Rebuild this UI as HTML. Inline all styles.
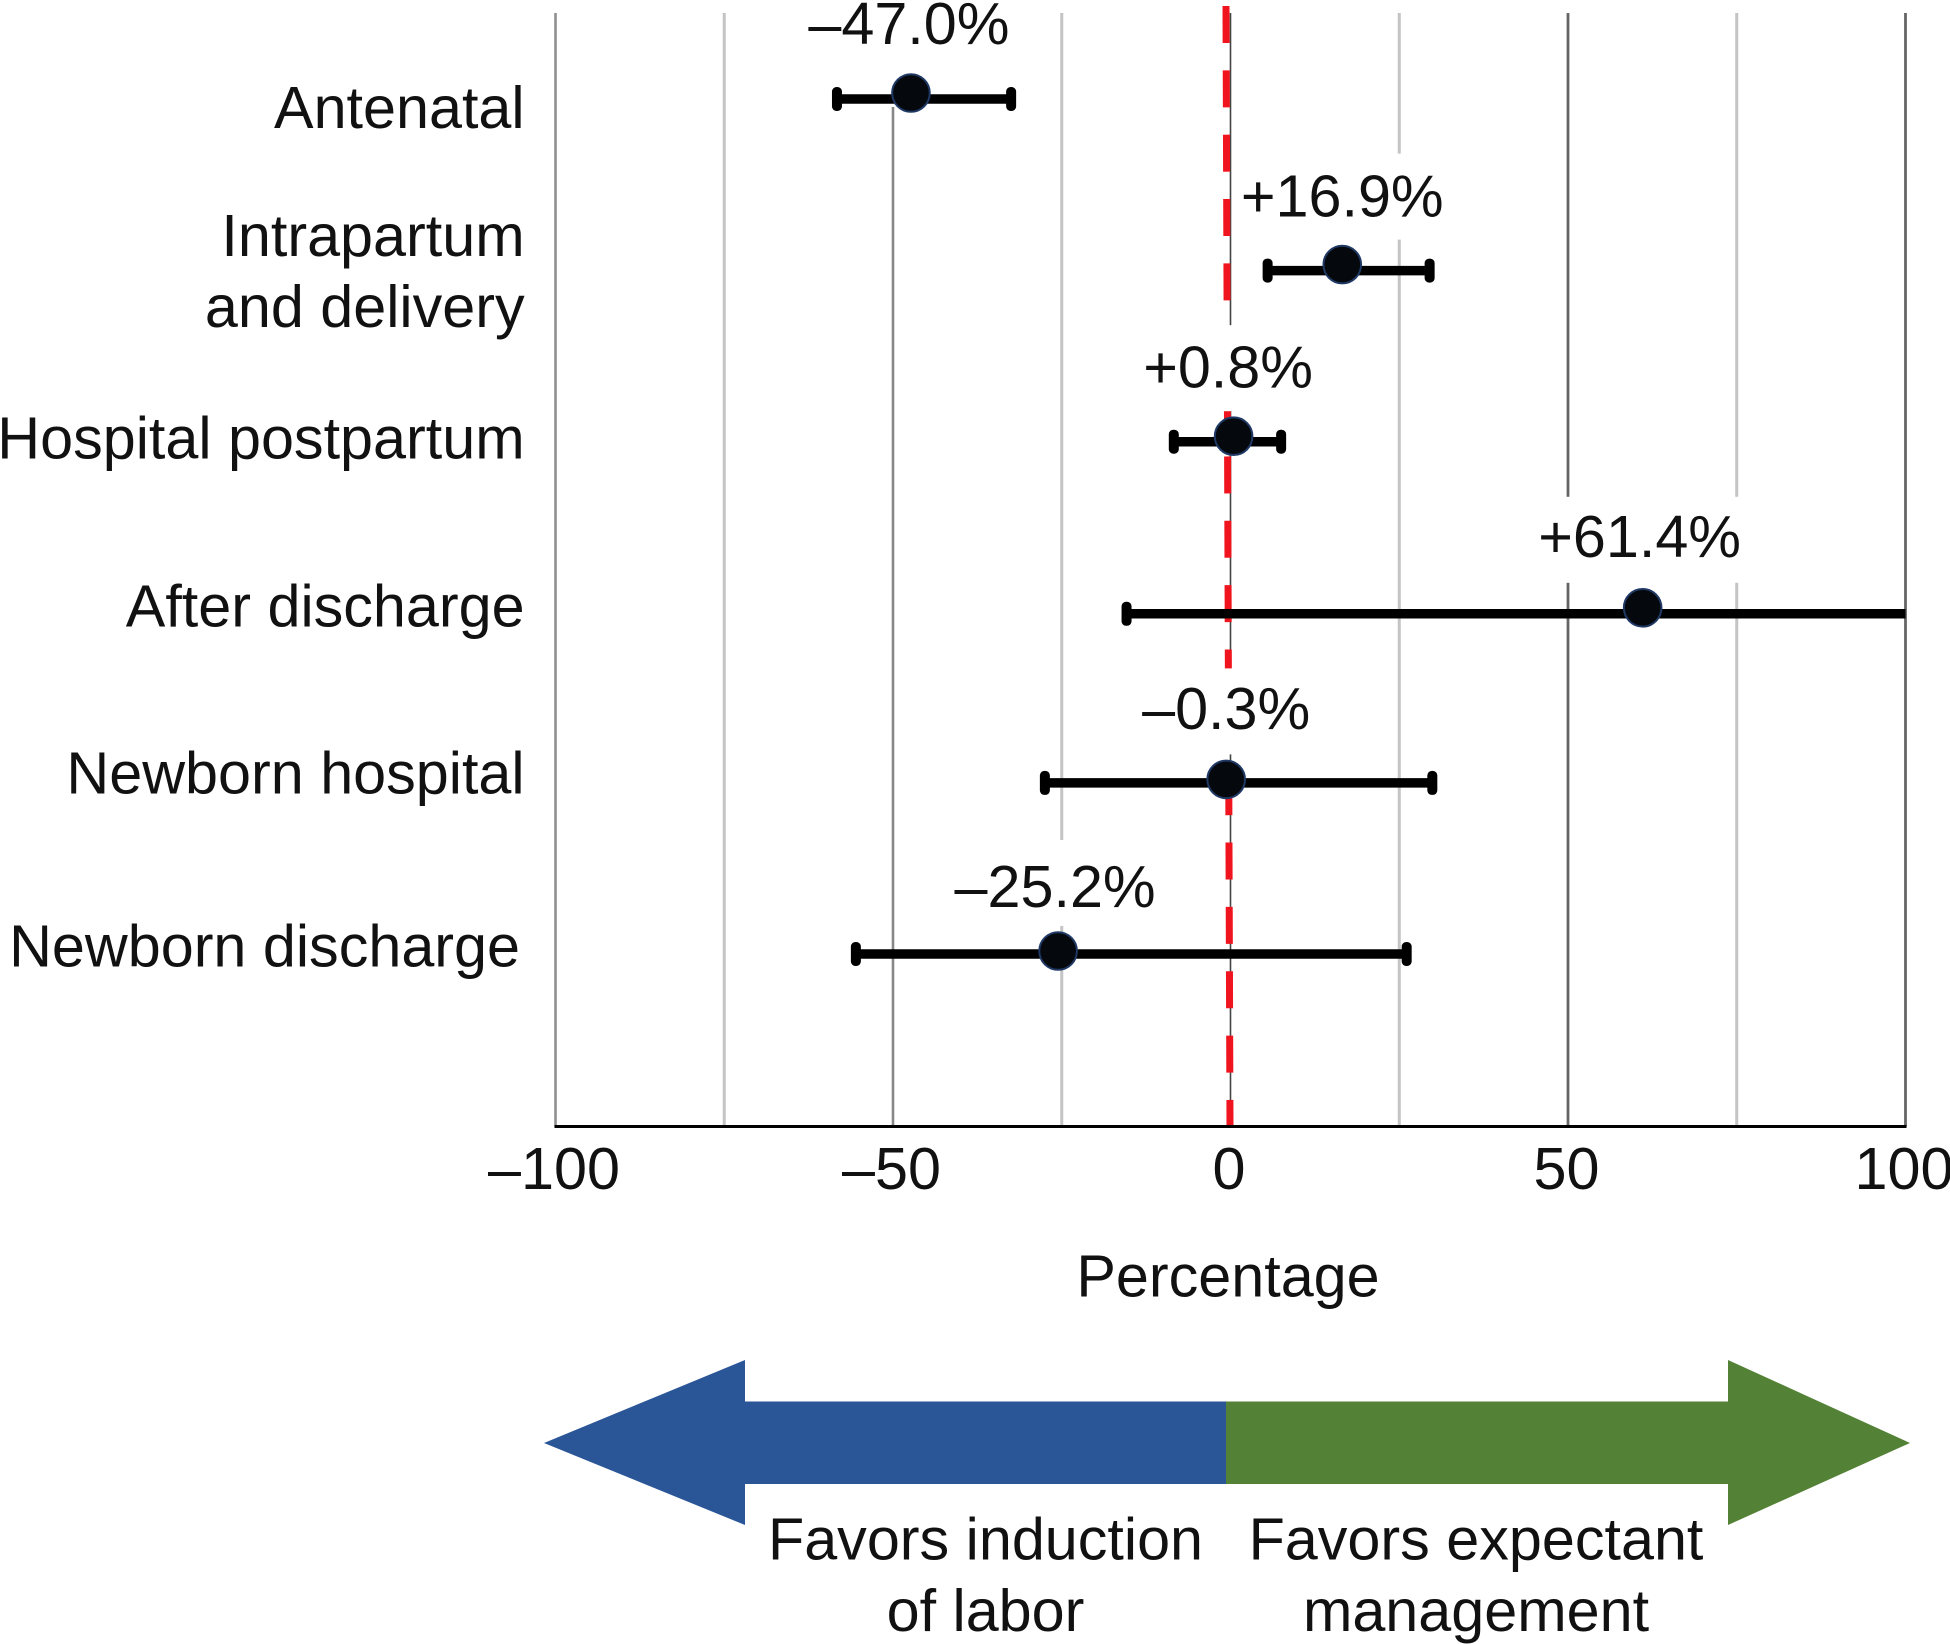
<!DOCTYPE html>
<html lang="en">
<head>
<meta charset="utf-8">
<title>Percentage difference by care phase</title>
<style>
  html, body { margin: 0; padding: 0; background: #fff; }
  svg { display: block; overflow: hidden; }
  text { font-family: "Liberation Sans", Arial, sans-serif; font-size: 59.3px; fill: #111; }
</style>
</head>
<body>
<svg id="chart" xmlns="http://www.w3.org/2000/svg" width="1950" height="1644" viewBox="0 0 1950 1644">
  <rect x="0" y="0" width="1950" height="1644" fill="#fff"/>
  <g id="grid"></g>
  <g id="boxes"></g>
  <g id="axis"></g>
  <g id="cats"></g>
  <g id="marks"></g>
  <text x="1228" y="1296.5" text-anchor="middle">Percentage</text>
  <polygon fill="#2a5597" points="544,1443 745,1360 745,1401.5 1226,1401.5 1226,1484 745,1484 745,1525"/>
  <polygon fill="#538135" points="1226,1401.5 1728,1401.5 1728,1360 1910,1443 1728,1525 1728,1484 1226,1484"/>
  <text text-anchor="middle" x="985.5" y="1559.5">Favors induction<tspan x="985.5" y="1631">of labor</tspan></text>
  <text text-anchor="middle" x="1476" y="1559.5">Favors expectant<tspan x="1476" y="1631">management</tspan></text>
</svg>
<script>
const categories = ["Antenatal", "Intrapartum\nand delivery", "Hospital postpartum", "After discharge", "Newborn hospital", "Newborn discharge"];
const estimates = [-47.0, 16.9, 0.8, 61.4, -0.3, -25.2];
const ciLower = [-58.3, 5.5, -8.4, -15.4, -27.5, -55.5];
const ciUpper = [-32.5, 29.5, 7.5, 100, 29.9, 26.1];
const valueLabels = ["\u201347.0%", "+16.9%", "+0.8%", "+61.4%", "\u20130.3%", "\u201325.2%"];
const gridValues = [-100, -75, -50, -25, 0, 25, 50, 75, 100];
const tickValues = [-100, -50, 0, 50, 100];
const tickLabels = ["\u2013100", "\u201350", "0", "50", "100"];
const referenceValue = 0;

const SVG_NS = 'http://www.w3.org/2000/svg';
const xScale = function (v) { return 1230.5 + v * 6.75; };
const rowY = function (i) { return 93 + i * 171.6; };
const plotTop = 13;
const plotBottom = 1126.5;

function make(parent, tag, attrs) {
  const el = document.createElementNS(SVG_NS, tag);
  Object.keys(attrs).forEach(function (k) { el.setAttribute(k, attrs[k]); });
  parent.appendChild(el);
  return el;
}
function gridStyle(v) {
  if (v === 0) return ['#444', 1.6];
  if (v === -100) return ['#8f8f8f', 2.6];
  if (v === 100 || v === 50) return ['#666', 2.8];
  if (v === -50) return ['#888', 2.6];
  return ['#c4c4c4', 3];
}
function categoryLabelY(i) {
  const baselines = [128.2, 256.2, 458.6, 626.6, 793.6, 966.6];
  return baselines[i];
}
function labelShiftX(i) {
  const shifts = [1, 3, -2.5, 0, 3, 0];
  return shifts[i];
}
function labelLift(i) {
  const lifts = [49, 48, 48.5, 51, 50.5, 44];
  return lifts[i];
}
function whiskerDrop(i) {
  const drops = [6, 6, 5.5, 6, 3.5, 3];
  return drops[i];
}

const grid = document.getElementById('grid');
gridValues.forEach(function (v) {
  const st = gridStyle(v);
  const line = make(grid, 'line', { x1: xScale(v), x2: xScale(v), y1: plotTop, y2: plotBottom, stroke: st[0], 'stroke-width': st[1] });
  
  
});

const refLine = make(grid, 'line', {
  x1: xScale(referenceValue) - 4.5, x2: xScale(referenceValue) - 0.5, y1: 6, y2: plotBottom,
  stroke: '#f0141e', 'stroke-width': 7, 'stroke-dasharray': '37 27.35'
});



const boxes = document.getElementById('boxes');
const marks = document.getElementById('marks');
const cats = document.getElementById('cats');

categories.forEach(function (name, i) {
  const y = rowY(i);
  const mx = xScale(estimates[i]) - 2.3;
  const labelX = mx - 3 + labelShiftX(i);
  const halfWidth = valueLabels[i].length <= 5 ? 90 : 104;
  const boxBottom = i === 0 ? y + 14 : y - 25;
  const boxTop = i === 0 ? 0 : boxBottom - 86;

  const box = make(boxes, 'rect', { x: labelX - halfWidth, y: boxTop, width: halfWidth * 2, height: boxBottom - boxTop, fill: '#fff' });
  
  

  const lineY = y + whiskerDrop(i);
  const whisker = make(marks, 'line', { x1: xScale(ciLower[i]), x2: xScale(ciUpper[i]), y1: lineY, y2: lineY, stroke: '#000', 'stroke-width': 9.5 });
  
  

  const lowCap = make(marks, 'rect', { x: xScale(ciLower[i]) - 5, y: lineY - 12, width: 10, height: 24, rx: 4.5, fill: '#000' });
  
  

  if (ciUpper[i] < 100) {
    const highCap = make(marks, 'rect', { x: xScale(ciUpper[i]) - 5, y: lineY - 12, width: 10, height: 24, rx: 4.5, fill: '#000' });
    
    
  }

  const dot = make(marks, 'circle', { cx: mx, cy: y, r: 18.8, fill: '#05090d', stroke: '#1f3864', 'stroke-width': 2 });
  
  

  const label = make(marks, 'text', { x: labelX, y: y - labelLift(i), 'text-anchor': 'middle' });
  label.textContent = valueLabels[i];
  
  

  const lines = name.split('\n');
  lines.forEach(function (part, j) {
    const right = i === 5 ? 520 : 524.6;
    const t = make(cats, 'text', { x: right, y: categoryLabelY(i) + j * 70.8, 'text-anchor': 'end' });
    t.textContent = part;
    
    
  });
});

const axis = document.getElementById('axis');
const baseLine = make(axis, 'line', { x1: xScale(-100) - 1, x2: xScale(100) + 1, y1: plotBottom, y2: plotBottom, stroke: '#000', 'stroke-width': 3 });


tickValues.forEach(function (v, i) {
  const t = make(axis, 'text', { x: xScale(v) - 1.5, y: 1189, 'text-anchor': 'middle' });
  t.textContent = tickLabels[i];
  
  
});
</script>
</body>
</html>
